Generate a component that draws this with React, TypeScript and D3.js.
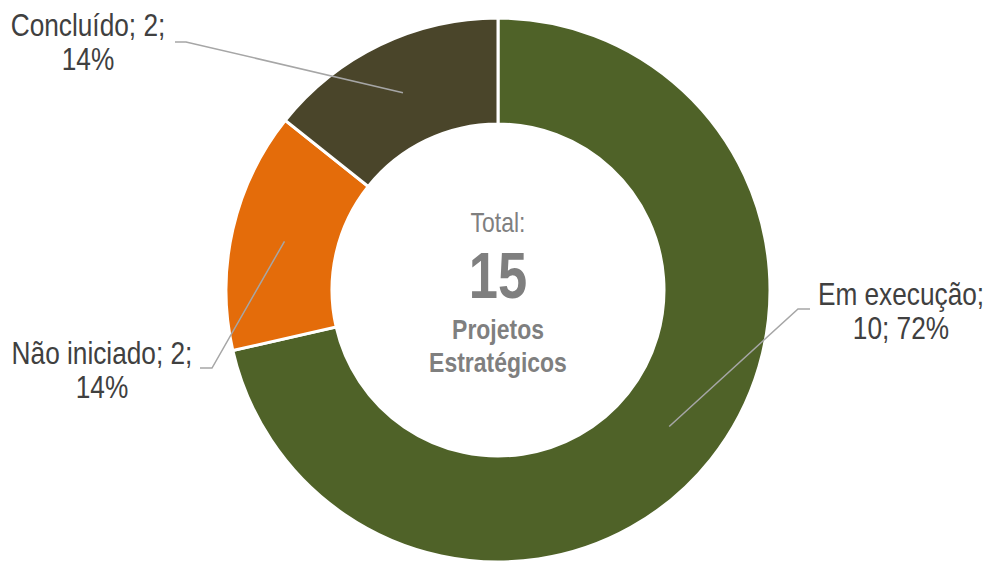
import React from "react";
import * as d3 from "d3";

const categories = ["Em execução", "Não iniciado", "Concluído"];
const values = [10, 2, 2];
const percentLabels = ["72%", "14%", "14%"];
const colors = ["#4f6228", "#e46c0a", "#4a452a"];
const totalLabel = "15";

const W = 990;
const H = 562;
const cx = 498;
const cy = 290;
const outerR = 272;
const innerR = 166;
const FONT = "'Liberation Sans', Arial, sans-serif";
const SX = 0.82; // narrow-font emulation

const labelLayouts = [
  { lines: (i: number) => [`${categories[i]};`, `${values[i]}; ${percentLabels[i]}`], x: 901, y: 305, elbow: [810, 309, 798, 309] },
  { lines: (i: number) => [`${categories[i]}; ${values[i]};`, percentLabels[i]], x: 102, y: 364, elbow: [200, 368, 212, 368] },
  { lines: (i: number) => [`${categories[i]}; ${values[i]};`, percentLabels[i]], x: 88, y: 36, elbow: [175, 42, 186, 42] },
];

function NarrowText({ x, y, size, weight, fill, children }: any) {
  return (
    <text
      transform={`translate(${x},${y}) scale(${SX},1)`}
      textAnchor="middle"
      fontFamily={FONT}
      fontSize={size}
      fontWeight={weight || "normal"}
      fill={fill}
    >
      {children}
    </text>
  );
}

export default function App() {
  const pie = d3.pie<number>().value((d) => d).sort(null).padAngle(0);
  const arcs = pie(values);
  const arc = d3.arc<d3.PieArcDatum<number>>().innerRadius(innerR).outerRadius(outerR);
  const midR = (innerR + outerR) / 2;
  const anchorArc = d3.arc<d3.PieArcDatum<number>>().innerRadius(midR).outerRadius(midR);

  return (
    <svg width={W} height={H} style={{ position: "absolute", left: 0, top: 0, background: "#fff" }}>
      <g transform={`translate(${cx},${cy})`}>
        {arcs.map((a, i) => (
          <path key={i} d={arc(a) || ""} fill={colors[i]} stroke="#fff" strokeWidth={3} strokeLinejoin="miter" />
        ))}
      </g>
      {arcs.map((a, i) => {
        const L = labelLayouts[i];
        const [ax, ay] = anchorArc.centroid(a);
        const px = cx + ax;
        const py = cy + ay;
        const [x1, y1, x2, y2] = L.elbow;
        const lines = L.lines(i);
        return (
          <g key={i}>
            <polyline points={`${x1},${y1} ${x2},${y2} ${px},${py}`} fill="none" stroke="#a6a6a6" strokeWidth={1.5} />
            {lines.map((t, j) => (
              <NarrowText key={j} x={L.x} y={L.y + j * 34} size={32} fill="#404040">{t}</NarrowText>
            ))}
          </g>
        );
      })}
      <NarrowText x={cx} y={232} size={28} fill="#7f7f7f">Total:</NarrowText>
      <NarrowText x={cx} y={298} size={64} weight="bold" fill="#7f7f7f">{totalLabel}</NarrowText>
      <NarrowText x={cx} y={339} size={28} weight="bold" fill="#7f7f7f">Projetos</NarrowText>
      <NarrowText x={cx} y={372} size={28} weight="bold" fill="#7f7f7f">Estratégicos</NarrowText>
    </svg>
  );
}
